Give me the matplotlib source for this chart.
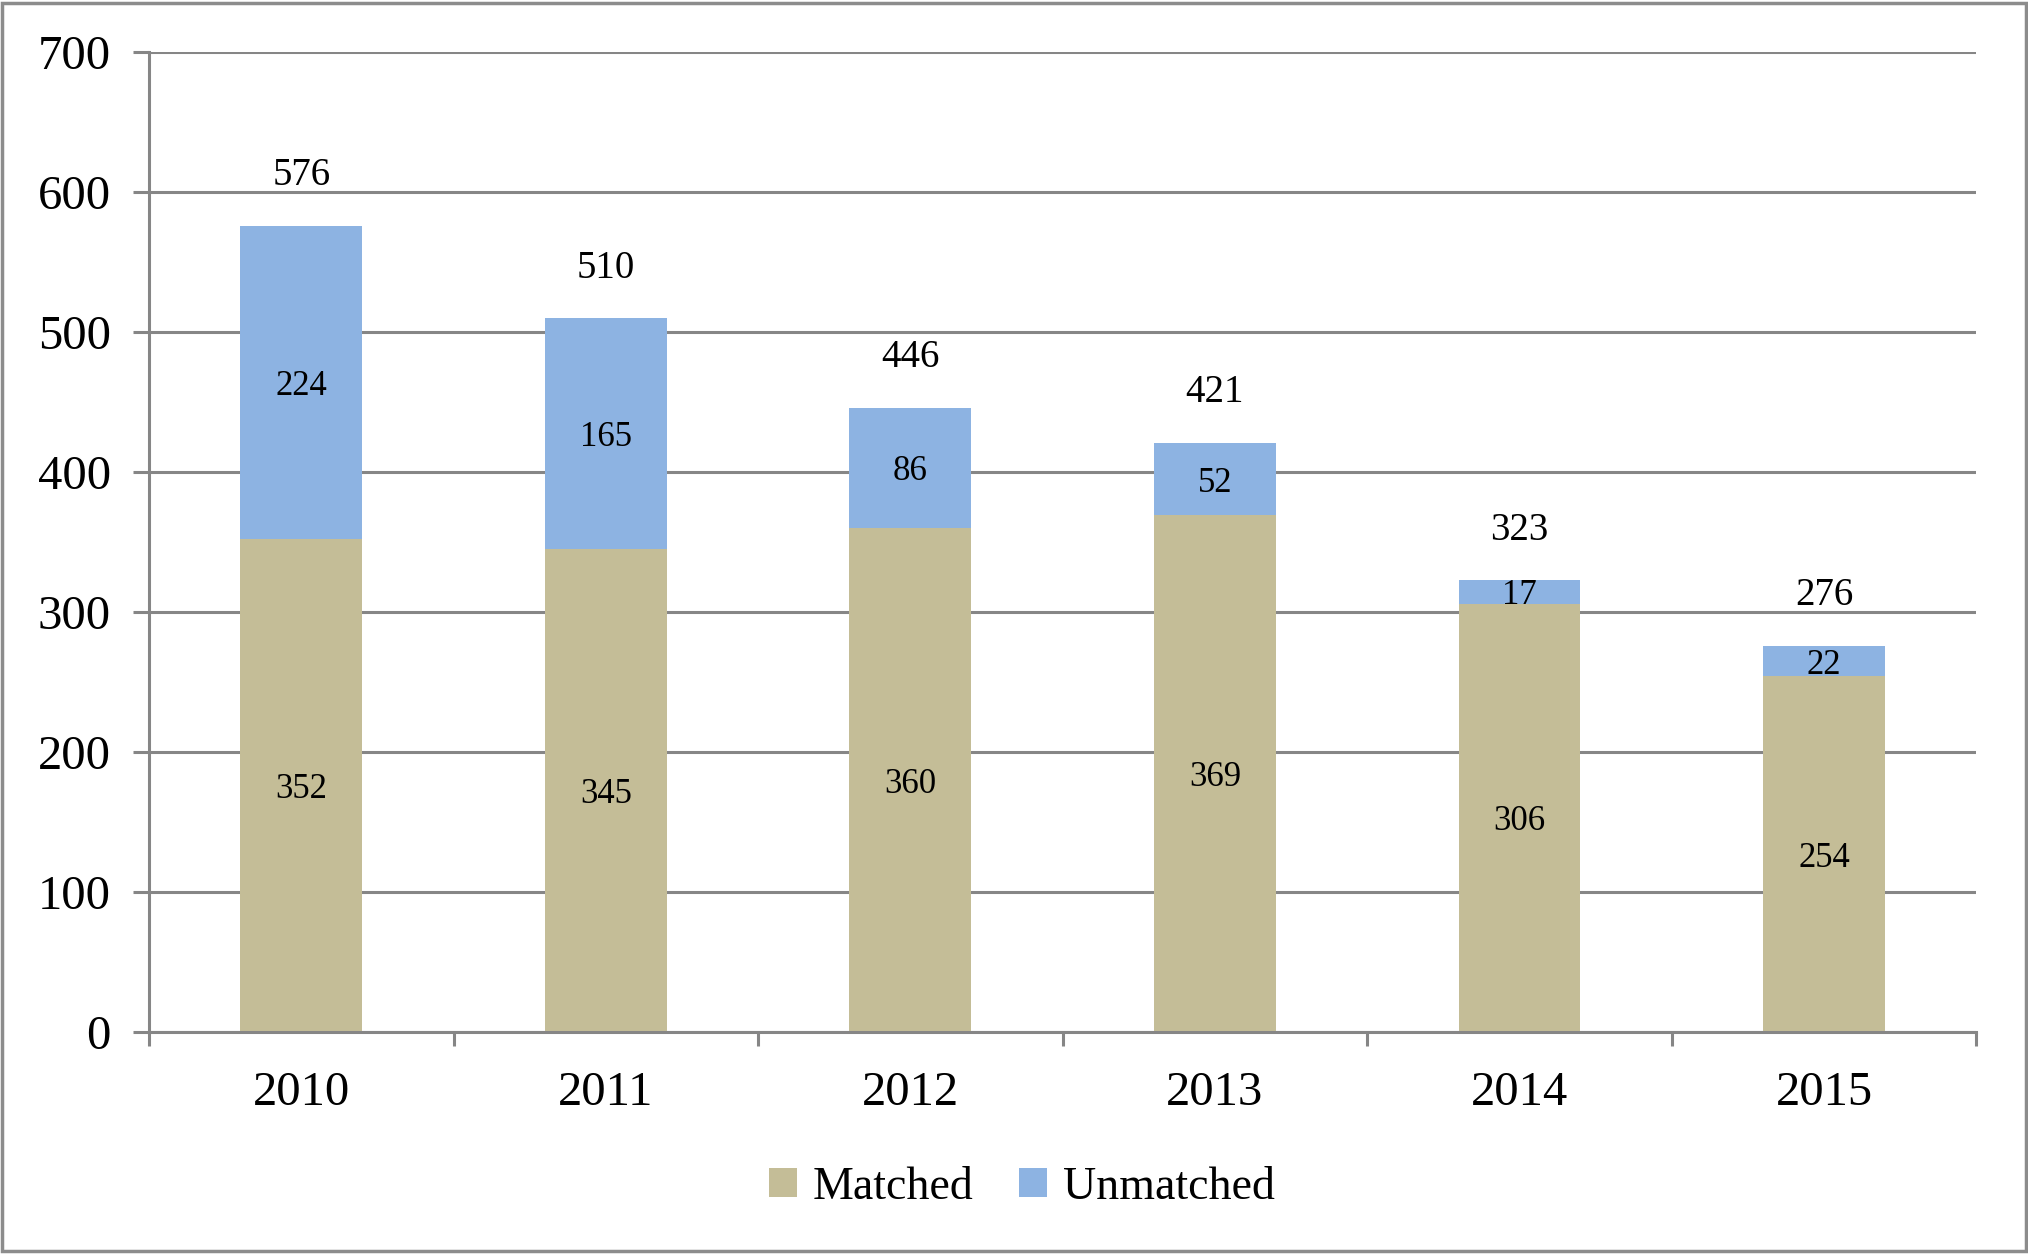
import matplotlib.pyplot as plt
import numpy as np
from matplotlib.patches import Rectangle

years = ["2010", "2011", "2012", "2013", "2014", "2015"]
matched = [352, 345, 360, 369, 306, 254]
unmatched = [224, 165, 86, 52, 17, 22]
y_ticks = [0, 100, 200, 300, 400, 500, 600, 700]

matched_color = "#C4BD97"
unmatched_color = "#8DB3E2"
grid_color = "#868686"

plt.rcParams["font.family"] = ["Liberation Serif", "DejaVu Serif"]

fig = plt.figure(figsize=(20.28, 12.54), dpi=100)
ax = fig.add_axes([0.0735, 0.177, 0.901, 0.7815])

x = np.arange(len(years))
totals = np.array(matched) + np.array(unmatched)

# gridlines behind the bars
ax.set_axisbelow(True)
ax.yaxis.grid(True, color=grid_color, linewidth=2.2)

b1 = ax.bar(x, matched, width=0.4, color=matched_color, label="Matched")
b2 = ax.bar(x, unmatched, width=0.4, bottom=matched, color=unmatched_color, label="Unmatched")

# segment labels in the middle of each piece
for xi, m, u in zip(x, matched, unmatched):
    ax.text(xi, m / 2, str(m), ha="center", va="center_baseline", fontsize=25)
    ax.text(xi, m + u / 2, str(u), ha="center", va="center_baseline", fontsize=25)

# totals above the bars
for xi, t in zip(x, totals):
    ax.annotate(str(t), (xi, t), xytext=(0, 39), textcoords="offset points",
                ha="center", va="center_baseline", fontsize=28)

ax.set_xlim(-0.5, len(years) - 0.5)
ax.set_ylim(0, 700)
ax.set_yticks(y_ticks)
ax.set_yticklabels([str(v) for v in y_ticks], fontsize=35)

ax.set_xticks(x)
ax.set_xticklabels(years, fontsize=35)
ax.set_xticks(np.arange(-0.5, len(years)), minor=True)
ax.tick_params(axis="x", which="major", length=0, pad=28)
ax.tick_params(axis="x", which="minor", length=10, width=2.2, color=grid_color, direction="out")
ax.tick_params(axis="y", length=11.5, width=2.2, color=grid_color, direction="out", pad=16)

for side in ["top", "right"]:
    ax.spines[side].set_visible(False)
for side in ["left", "bottom"]:
    ax.spines[side].set_color(grid_color)
    ax.spines[side].set_linewidth(2.2)

fig.legend(handles=[b1, b2], loc="center", bbox_to_anchor=(0.504, 0.053), ncol=2,
           frameon=False, fontsize=33, handlelength=0.6, handleheight=0.6,
           handletextpad=0.35, columnspacing=1.0)

# outer frame of the chart area
fig.patches.append(Rectangle((0.001, 0.002), 0.998, 0.996, transform=fig.transFigure,
                             fill=False, edgecolor="#8c8c8c", linewidth=2.5))

fig.savefig("out.png", dpi=100)
plt.close()
